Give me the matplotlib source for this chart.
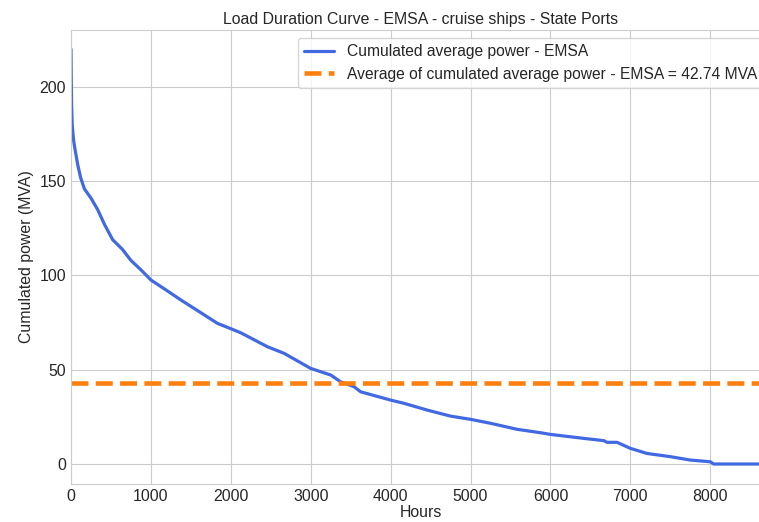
import matplotlib
matplotlib.use("Agg")
import matplotlib.pyplot as plt
import seaborn as sns

# Load duration curve (hours sorted by decreasing cumulated power)
hours = [0, 3, 8, 15, 25, 35, 50, 83, 120, 167, 250, 333, 420, 521, 640, 750,
         875, 1000, 1200, 1375, 1542, 1833, 2021, 2125, 2458, 2667, 3000, 3250,
         3375, 3542, 3625, 4000, 4167, 4458, 4750, 5000, 5250, 5583, 5875, 6000,
         6417, 6667, 6708, 6833, 7000, 7208, 7500, 7750, 8000, 8042, 8760]
power = [220, 205, 190, 180, 175, 171, 167, 159, 152, 146, 141, 135, 127, 119,
         114, 108, 103, 97.6, 92, 87, 82.5, 74.6, 71.4, 69.6, 62.2, 58.7, 50.7,
         47.2, 43.6, 41, 38.3, 33.9, 32.2, 28.6, 25.4, 23.7, 21.6, 18.4, 16.6,
         15.7, 13.6, 12.4, 11.5, 11.5, 8.3, 5.6, 3.9, 2.1, 1.2, 0, 0]
mean_power = 42.74

sns.set_style("whitegrid")
plt.rcParams["font.family"] = ["Liberation Sans", "DejaVu Sans"]

FS = 11.4
TXT = "#262626"

W, H = 759, 522
fig = plt.figure(figsize=(W / 100, H / 100), dpi=100, facecolor="white")
# the original image is cropped on the right: axes run past the figure edge
ax = fig.add_axes([71 / W, (H - 484) / H, 700 / W, 454 / H])

ax.plot(hours, power, color="royalblue", linewidth=2.3,
        label="Cumulated average power - EMSA")
ax.axhline(mean_power, color="#ff7f0e", linewidth=3.3, linestyle="--",
           label=f"Average of cumulated average power - EMSA = {mean_power} MVA")

ax.set_xlim(0, 8760)
ax.set_ylim(-10.6, 230.2)
ax.set_xticks(range(0, 9000, 1000))
ax.set_yticks(range(0, 201, 50))
ax.tick_params(labelsize=FS, colors=TXT, length=0)

ax.set_title("Load Duration Curve - EMSA - cruise ships - State Ports",
             fontsize=FS, color=TXT, pad=4)
ax.set_xlabel("Hours", fontsize=FS, color=TXT, labelpad=1)
ax.set_ylabel("Cumulated power (MVA)", fontsize=FS, color=TXT)

ax.legend(loc="upper right", fontsize=11.25, frameon=True, handlelength=1.9)

fig.savefig("out.png", dpi=100, facecolor="white")
